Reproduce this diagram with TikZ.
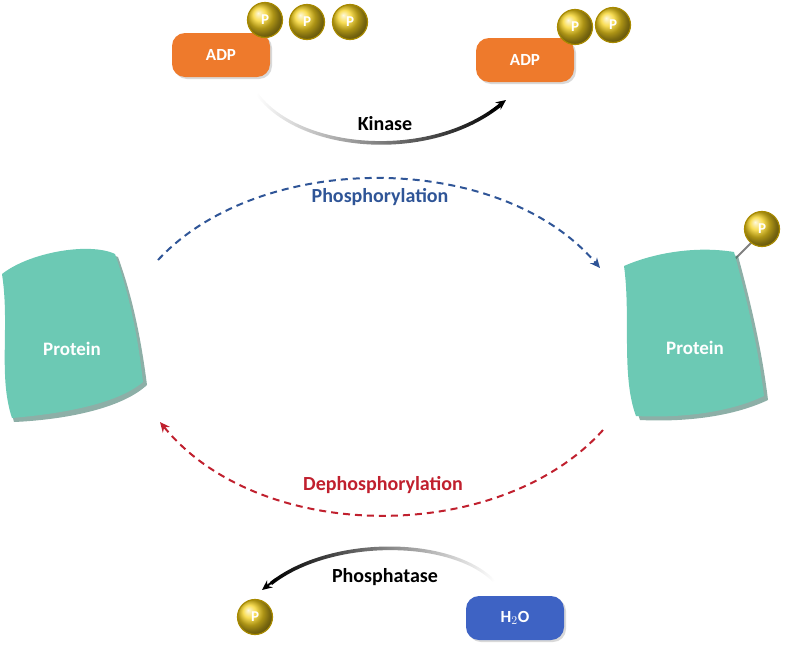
\documentclass[tikz,border=0pt]{standalone}
\usepackage{fontspec}
\setmainfont{Carlito}
\usetikzlibrary{arrows.meta,shadows}
\definecolor{teal1}{HTML}{6CC9B4}
\definecolor{orng}{HTML}{EE7A2C}
\definecolor{blu}{HTML}{3E63C4}
\definecolor{phblue}{HTML}{2F5597}
\definecolor{phred}{HTML}{C0202E}
\definecolor{gold}{HTML}{F6D21E}
\definecolor{goldd}{HTML}{A88A00}
\tikzset{
 pill/.style={rounded corners=13pt,minimum width=98pt,minimum height=44pt,text=white,font=\bfseries\fontsize{17}{17}\selectfont,drop shadow={opacity=0.3,shadow xshift=2pt,shadow yshift=-2pt}},
 phos/.style={circle,minimum size=35pt,inner sep=0pt,ball color=gold,draw=goldd,line width=1.2pt,text=white,font=\bfseries\fontsize{15}{15}\selectfont},
 lbl/.style={font=\bfseries\fontsize{20}{20}\selectfont},
 dasharc/.style={line width=2pt,dash pattern=on 7pt off 5pt,-{Stealth[length=10pt,width=9pt]}},
 prot/.style={fill=teal1,draw=none}
}
\begin{document}
\begin{tikzpicture}[x=1pt,y=-1pt]
\useasboundingbox (0,0) rectangle (787,651);
% left protein
\fill[teal1!60!black,opacity=0.6] (6,278) .. controls (30,255) and (90,245) .. (118,257) .. controls (130,290) and (140,330) .. (147,385) .. controls (120,410) and (60,420) .. (14,422) .. controls (2,380) and (14,330) .. (6,278) -- cycle;
\path[prot] (2,274) .. controls (30,252) and (90,242) .. (115,254) .. controls (127,288) and (137,328) .. (143,382) .. controls (116,405) and (58,414) .. (12,418) .. controls (-2,376) and (10,326) .. (2,274) -- cycle;
\node[text=white,font=\bfseries\fontsize{19}{19}\selectfont] (pl) at (72,349) {Protein};
% right protein
\draw[gray,line width=2pt] (732,262) -- (752,242);
\node[phos] (pr) at (762,229) {P};
\fill[teal1!60!black,opacity=0.6] (628,270) .. controls (660,255) and (700,250) .. (738,256) .. controls (750,300) and (762,350) .. (768,400) .. controls (730,418) and (680,422) .. (640,420) .. controls (625,380) and (635,320) .. (628,270) -- cycle;
\path[prot] (624,266) .. controls (656,252) and (698,246) .. (734,252) .. controls (746,296) and (758,346) .. (764,396) .. controls (726,414) and (676,418) .. (636,416) .. controls (621,376) and (631,316) .. (624,266) -- cycle;
\node[text=white,font=\bfseries\fontsize{19}{19}\selectfont] (prl) at (695,348) {Protein};
% top ADP
\node[pill,fill=orng] (adp1) at (221,55) {ADP};
\node[phos] (p1) at (265,20) {P};
\node[phos] (p2) at (307,22) {P};
\node[phos] (p3) at (350,22) {P};
\node[pill,fill=orng] (adp2) at (525,60) {ADP};
\node[phos] (p4) at (575,27) {P};
\node[phos] (p5) at (613,25) {P};
% kinase arc
\coordinate (k1) at (506,100);
\shade[left color=white,right color=black] (258,93) .. controls (300,150) and (430,160) .. (500,103) -- (502,106) .. controls (430,164) and (300,154) .. (256,95) -- cycle;
\draw[-{Stealth[length=10pt,width=9pt]},line width=2pt,black] (490,112) -- (k1);
\node[lbl] (kin) at (385,124) {Kinase};
% phosphorylation
\coordinate (a0) at (158,260);
\coordinate (a1) at (600,268);
\draw[dasharc,phblue] (a0) .. controls (260,150) and (500,150) .. (a1);
\node[lbl,text=phblue] (phl) at (380,197) {Phosphorylation};
% dephosphorylation
\coordinate (b0) at (603,430);
\coordinate (b1) at (160,422);
\draw[dasharc,phred] (b0) .. controls (500,545) and (260,545) .. (b1);
\node[lbl,text=phred] (dpl) at (383,485) {Dephosphorylation};
% phosphatase
\shade[left color=black,right color=white] (270,582) .. controls (330,535) and (450,535) .. (495,580) -- (493,582) .. controls (450,539) and (330,539) .. (272,585) -- cycle;
\coordinate (c1) at (262,590);
\draw[-{Stealth[length=10pt,width=9pt]},line width=2pt,black] (276,579) -- (c1);
\node[lbl] (pha) at (385,577) {Phosphatase};
\node[phos] (p6) at (255,617) {P};
\node[pill,fill=blu] (h2o) at (515,618) {H$_2$O};
\end{tikzpicture}
\end{document}
